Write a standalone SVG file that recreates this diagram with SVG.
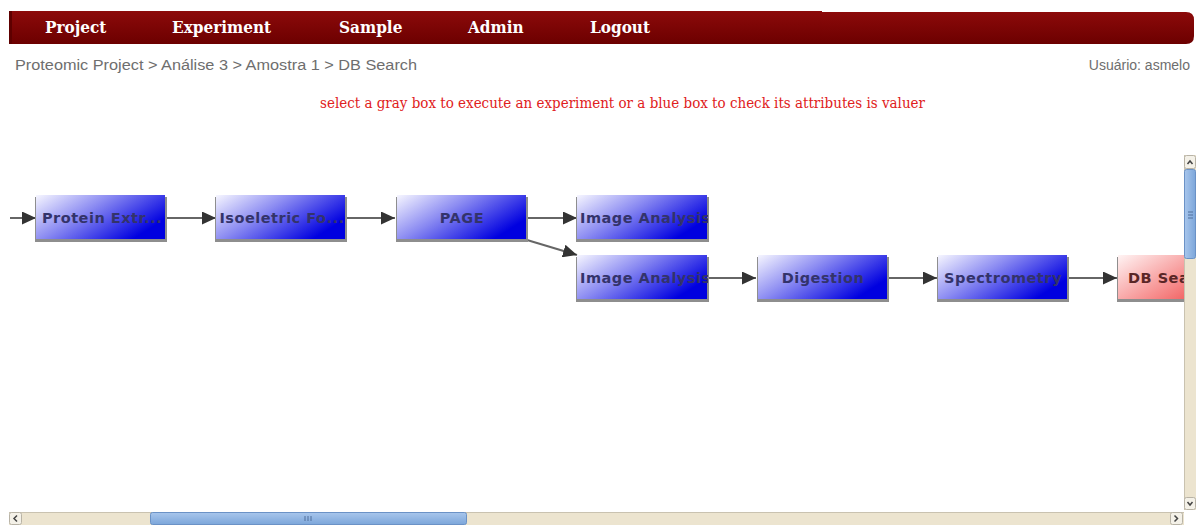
<svg xmlns="http://www.w3.org/2000/svg" width="1196" height="525" viewBox="0 0 1196 525">
  <defs>
    <linearGradient id="navGrad" x1="0" y1="0" x2="0" y2="1">
      <stop offset="0" stop-color="#8c0a0a"/>
      <stop offset="1" stop-color="#6c0000"/>
    </linearGradient>
    <linearGradient id="blueGrad" x1="0" y1="0" x2="1" y2="0.55">
      <stop offset="0" stop-color="#f6f6ff"/>
      <stop offset="0.45" stop-color="#8c8cf2"/>
      <stop offset="1" stop-color="#0000e0"/>
    </linearGradient>
    <linearGradient id="redGrad" x1="0" y1="0" x2="1" y2="0.55">
      <stop offset="0" stop-color="#fff4f4"/>
      <stop offset="1" stop-color="#f04848"/>
    </linearGradient>
    <linearGradient id="thumbV" x1="0" y1="0" x2="1" y2="0">
      <stop offset="0" stop-color="#a8c6ec"/>
      <stop offset="1" stop-color="#7ca6da"/>
    </linearGradient>
    <linearGradient id="thumbH" x1="0" y1="0" x2="0" y2="1">
      <stop offset="0" stop-color="#a8c6ec"/>
      <stop offset="1" stop-color="#7ca6da"/>
    </linearGradient>
    <marker id="arrow" markerUnits="userSpaceOnUse" markerWidth="15" markerHeight="13" refX="14" refY="6.5" orient="auto">
      <path d="M0,0 L14,6.5 L0,13 Z" fill="#333"/>
    </marker>
    <clipPath id="c1"><rect x="36" y="195" width="130" height="45"/></clipPath>
    <clipPath id="c2"><rect x="216" y="195" width="130" height="45"/></clipPath>
    <clipPath id="c3"><rect x="397" y="195" width="130" height="45"/></clipPath>
    <clipPath id="c4"><rect x="577" y="195" width="131" height="45"/></clipPath>
    <clipPath id="c5"><rect x="577" y="255" width="131" height="45"/></clipPath>
    <clipPath id="c6"><rect x="758" y="255" width="130" height="45"/></clipPath>
    <clipPath id="c7"><rect x="938" y="255" width="130" height="45"/></clipPath>
    <clipPath id="c8"><rect x="1118" y="255" width="66" height="45"/></clipPath>
  </defs>
  <style>
    .nav { font-family: "DejaVu Serif Condensed", "DejaVu Serif", serif; font-weight: bold; font-size: 17px; fill: #ffffff; }
    .crumb { font-family: "Liberation Sans", Arial, sans-serif; font-size: 14px; fill: #6e6e6e; }
    .hint { font-family: "DejaVu Serif Condensed", "DejaVu Serif", serif; font-size: 14px; fill: #e02020; }
    .shadow { fill: #8e8e8e; }
    .box { fill: url(#blueGrad); }
    .box-red { fill: url(#redGrad); }
    .label { font-family: "DejaVu Sans", "Noto Sans", sans-serif; font-weight: bold; font-size: 14.5px; letter-spacing: 0.5px; fill: #33336a; }
    .label-red { font-family: "DejaVu Sans", "Noto Sans", sans-serif; font-weight: bold; font-size: 14.5px; letter-spacing: 0.5px; fill: #5a2626; }
    .edge { stroke: #666; stroke-width: 2; fill: none; marker-end: url(#arrow); }
    .track { fill: #ece4cf; }
    .btn { fill: #f4f1e8; stroke: #b8b3a6; stroke-width: 1; }
    .glyph { stroke: #444; stroke-width: 1.5; fill: none; }
  </style>

  <rect width="1196" height="525" fill="#ffffff"/>

  <!-- top navigation bar -->
  <g id="navbar">
    <path d="M820,12 H1186 Q1194,12 1194,20 V36 Q1194,44 1186,44 H820 Z" fill="url(#navGrad)"/>
    <rect x="9" y="11" width="813" height="33" fill="url(#navGrad)"/>
    <rect x="9" y="11" width="3" height="33" fill="#5e0000"/>
    <text class="nav" x="45" y="33">Project</text>
    <text class="nav" x="172" y="33">Experiment</text>
    <text class="nav" x="339" y="33">Sample</text>
    <text class="nav" x="468" y="33">Admin</text>
    <text class="nav" x="590" y="33">Logout</text>
  </g>

  <!-- breadcrumb and user -->
  <text class="crumb" x="15" y="70" textLength="402" lengthAdjust="spacingAndGlyphs">Proteomic Project &gt; Análise 3 &gt; Amostra 1 &gt; DB Search</text>
  <text class="crumb" x="1190" y="70" text-anchor="end">Usuário: asmelo</text>

  <text class="hint" x="320" y="108" textLength="605" lengthAdjust="spacingAndGlyphs">select a gray box to execute an experiment or a blue box to check its attributes is valuer</text>

  <!-- connectors -->
  <g id="connectors">
    <line class="edge" x1="10" y1="218" x2="36" y2="218"/>
    <line class="edge" x1="166" y1="218" x2="216" y2="218"/>
    <line class="edge" x1="346" y1="218" x2="395" y2="218"/>
    <line class="edge" x1="527" y1="218" x2="577" y2="218"/>
    <line class="edge" x1="527" y1="240" x2="577" y2="255"/>
    <line class="edge" x1="708" y1="278" x2="756" y2="278"/>
    <line class="edge" x1="888" y1="278" x2="937" y2="278"/>
    <line class="edge" x1="1068" y1="278" x2="1117" y2="278"/>
  </g>

  <!-- nodes -->
  <g id="node-protein-extraction">
    <rect class="shadow" x="35" y="197" width="132" height="45"/>
    <rect class="box" x="36" y="195" width="129" height="44"/>
    <text class="label" x="102" y="223" text-anchor="middle" clip-path="url(#c1)">Protein Extr...</text>
  </g>
  <g id="node-isoelectric">
    <rect class="shadow" x="215" y="197" width="132" height="45"/>
    <rect class="box" x="216" y="195" width="129" height="44"/>
    <text class="label" x="282" y="223" text-anchor="middle" clip-path="url(#c2)">Isoeletric Fo...</text>
  </g>
  <g id="node-page">
    <rect class="shadow" x="396" y="197" width="132" height="45"/>
    <rect class="box" x="397" y="195" width="129" height="44"/>
    <text class="label" x="462" y="223" text-anchor="middle" clip-path="url(#c3)">PAGE</text>
  </g>
  <g id="node-image-analysis-1">
    <rect class="shadow" x="576" y="197" width="133" height="45"/>
    <rect class="box" x="577" y="195" width="130" height="44"/>
    <text class="label" x="580" y="223" clip-path="url(#c4)">Image Analysis</text>
  </g>
  <g id="node-image-analysis-2">
    <rect class="shadow" x="576" y="257" width="133" height="45"/>
    <rect class="box" x="577" y="255" width="130" height="44"/>
    <text class="label" x="580" y="283" clip-path="url(#c5)">Image Analysis</text>
  </g>
  <g id="node-digestion">
    <rect class="shadow" x="757" y="257" width="132" height="45"/>
    <rect class="box" x="758" y="255" width="129" height="44"/>
    <text class="label" x="823" y="283" text-anchor="middle" clip-path="url(#c6)">Digestion</text>
  </g>
  <g id="node-spectrometry">
    <rect class="shadow" x="937" y="257" width="132" height="45"/>
    <rect class="box" x="938" y="255" width="129" height="44"/>
    <text class="label" x="1003" y="283" text-anchor="middle" clip-path="url(#c7)">Spectrometry</text>
  </g>
  <g id="node-db-search">
    <rect class="shadow" x="1117" y="257" width="132" height="45"/>
    <rect class="box-red" x="1118" y="255" width="129" height="44"/>
    <text class="label-red" x="1128" y="283" clip-path="url(#c8)">DB Search</text>
  </g>

  <!-- vertical scrollbar -->
  <g id="scroll-vertical">
    <rect class="track" x="1184" y="155" width="12" height="355"/>
    <line x1="1184.5" y1="155" x2="1184.5" y2="510" stroke="#c9c2b0"/>
    <rect class="btn" x="1184.5" y="155.5" width="11" height="13" rx="2"/>
    <path class="glyph" d="M1187.5,164 L1190,161 L1192.5,164" stroke-width="1"/>
    <rect x="1184.5" y="169.5" width="11" height="89" rx="2" fill="url(#thumbV)" stroke="#6b92c6"/>
    <path d="M1188,212 H1193 M1188,215 H1193 M1188,218 H1193" stroke="#4f6f9c" stroke-width="1"/>
    <rect class="btn" x="1184.5" y="497.5" width="11" height="12" rx="2"/>
    <path class="glyph" d="M1187.5,502 L1190,505 L1192.5,502" stroke-width="1"/>
  </g>

  <!-- horizontal scrollbar -->
  <g id="scroll-horizontal">
    <rect class="track" x="9" y="512" width="1175" height="13"/>
    <line x1="9" y1="512.5" x2="1184" y2="512.5" stroke="#c9c2b0"/>
    <rect class="btn" x="9.5" y="512.5" width="12" height="12" rx="2"/>
    <path class="glyph" d="M17,515.5 L14,518.5 L17,521.5"/>
    <rect x="150.5" y="512.5" width="316" height="12" rx="2" fill="url(#thumbH)" stroke="#6b92c6"/>
    <path d="M305,516 V521 M308,516 V521 M311,516 V521" stroke="#4f6f9c" stroke-width="1"/>
    <rect class="btn" x="1170.5" y="512.5" width="12" height="12" rx="2"/>
    <path class="glyph" d="M1174.5,515.5 L1177.5,518.5 L1174.5,521.5"/>
  </g>
</svg>
